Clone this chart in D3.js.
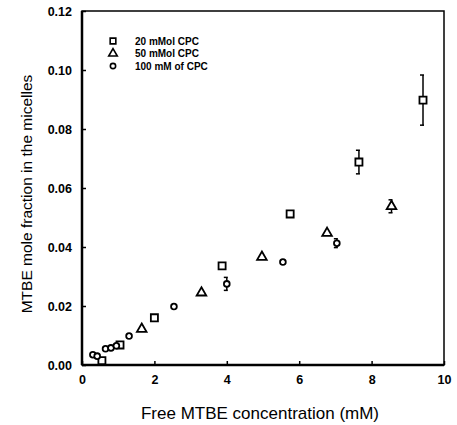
<!DOCTYPE html>
<html>
<head>
<meta charset="utf-8">
<script src="https://cdn.jsdelivr.net/npm/d3@7"></script>
<style>
  body { margin: 0; background: #fff; }
  text { font-family: Arial, "Liberation Sans", sans-serif; fill: #000; }
</style>
</head>
<body>
<div id="chart"></div>
<script>
const WIDTH = 457;
const HEIGHT = 425;
const margins = [82, 13, 11, 60]; // LEFT, RIGHT, TOP, BOTTOM

// 20 mMol CPC (squares)
const sq_x = [0.55, 1.05, 2.0, 3.87, 5.75, 7.65, 9.42];
const sq_y = [0.0015, 0.0068, 0.016, 0.0336, 0.0512, 0.0688, 0.0898];
const sq_err = [0, 0, 0, 0, 0, 0.004, 0.0085];

// 50 mMol CPC (triangles)
const tri_x = [1.65, 3.3, 4.97, 6.77, 8.55];
const tri_y = [0.0122, 0.0245, 0.0366, 0.0447, 0.0538];
const tri_err = [0, 0, 0, 0, 0.0022];

// 100 mM of CPC (circles)
const cir_x = [0.3, 0.42, 0.65, 0.8, 0.95, 1.3, 2.54, 4.0, 5.55, 7.04];
const cir_y = [0.0035, 0.003, 0.0055, 0.0058, 0.0065, 0.0098, 0.0198, 0.0275, 0.0349, 0.0413];
const cir_err = [0, 0, 0, 0, 0, 0, 0, 0.0022, 0, 0.0015];

const xTicks = [0, 2, 4, 6, 8, 10];
const yTicks = [0.00, 0.02, 0.04, 0.06, 0.08, 0.10, 0.12];
const yTickLabels = ["0.00", "0.02", "0.04", "0.06", "0.08", "0.10", "0.12"];
const legendLabels = ["20 mMol CPC", "50 mMol CPC", "100 mM of CPC"];

const svg = d3.select("#chart").append("svg")
    .attr("width", WIDTH).attr("height", HEIGHT);

const x = d3.scaleLinear().domain([0, 10])
    .range([margins[0], WIDTH - margins[1]]);
const y = d3.scaleLinear().domain([0, 0.12])
    .range([HEIGHT - margins[3], margins[2]]);

// frame
svg.append("rect")
    .attr("x", x(0)).attr("y", y(0.12))
    .attr("width", x(10) - x(0)).attr("height", y(0) - y(0.12))
    .attr("fill", "none").attr("stroke", "#000").attr("stroke-width", 1.5);
svg.append("line")
    .attr("x1", x(0)).attr("x2", x(10)).attr("y1", y(0)).attr("y2", y(0))
    .attr("stroke", "#000").attr("stroke-width", 2.5);
svg.append("line")
    .attr("x1", x(0)).attr("x2", x(0)).attr("y1", y(0)).attr("y2", y(0.12))
    .attr("stroke", "#000").attr("stroke-width", 2.5);

// axes (ticks inward)
const xAxis = svg.append("g")
    .attr("transform", `translate(0, ${y(0)})`)
    .call(d3.axisBottom(x).tickValues(xTicks).tickSizeInner(-4).tickSizeOuter(0).tickPadding(10));
const yAxis = svg.append("g")
    .attr("transform", `translate(${x(0)}, 0)`)
    .call(d3.axisLeft(y).tickValues(yTicks).tickSizeInner(-4).tickSizeOuter(0).tickPadding(10)
        .tickFormat((d, i) => yTickLabels[i]));
[xAxis, yAxis].forEach(a => {
    a.select(".domain").remove();
    a.selectAll("line").attr("stroke-width", 1.5);
    a.selectAll("text")
        .style("font-family", "Arial, 'Liberation Sans', sans-serif")
        .style("font-size", "12.5px")
        .style("font-weight", "bold");
});

// axis titles
svg.append("text")
    .attr("x", 260).attr("y", 419)
    .attr("text-anchor", "middle")
    .style("font-size", "17px")
    .text("Free MTBE concentration (mM)");
svg.append("text")
    .attr("transform", `translate(32, 194) rotate(-90)`)
    .attr("text-anchor", "middle")
    .style("font-size", "15.5px")
    .text("MTBE mole fraction in the micelles");

// error bars
function errorBars(xs, ys, es) {
    const d = xs.map((v, i) => ({ x: v, y: ys[i], e: es[i] })).filter(p => p.e > 0);
    const g = svg.append("g").attr("stroke", "#000").attr("stroke-width", 1.5);
    d.forEach(p => {
        g.append("line").attr("x1", x(p.x)).attr("x2", x(p.x))
            .attr("y1", y(p.y - p.e)).attr("y2", y(p.y + p.e));
        [p.y - p.e, p.y + p.e].forEach(v => {
            g.append("line").attr("x1", x(p.x) - 3).attr("x2", x(p.x) + 1)
                .attr("y1", y(v)).attr("y2", y(v));
        });
    });
}
errorBars(sq_x, sq_y, sq_err);
errorBars(tri_x, tri_y, tri_err);
errorBars(cir_x, cir_y, cir_err);

const symSquare = d3.symbol().type(d3.symbolSquare).size(50);
const symTri = d3.symbol().type(d3.symbolTriangle).size(40);
const symCircle = d3.symbol().type(d3.symbolCircle).size(26);

function points(xs, ys, sym) {
    svg.append("g").selectAll("path")
        .data(xs.map((v, i) => ({ x: v, y: ys[i] })))
        .join("path")
        .attr("d", sym)
        .attr("transform", d => `translate(${x(d.x)}, ${y(d.y)})`)
        .attr("fill", "#fff")
        .attr("stroke", "#000")
        .attr("stroke-width", 1.8);
}
points(sq_x, sq_y, symSquare);
points(tri_x, tri_y, symTri);
points(cir_x, cir_y, symCircle);

// legend
const legend = svg.append("g");
legendLabels.forEach((lab, i) => {
    const ly = 41 + i * 12.5;
    legend.append("path")
        .attr("d", d3.symbol().type([d3.symbolSquare, d3.symbolTriangle, d3.symbolCircle][i]).size(i === 2 ? 22 : 32))
        .attr("transform", `translate(113, ${ly})`)
        .attr("fill", "#fff").attr("stroke", "#000").attr("stroke-width", 1.6);
    legend.append("text")
        .attr("x", 135).attr("y", ly + 3.5)
        .style("font-size", "10px")
        .style("font-weight", "bold")
        .text(lab);
});
</script>
</body>
</html>
